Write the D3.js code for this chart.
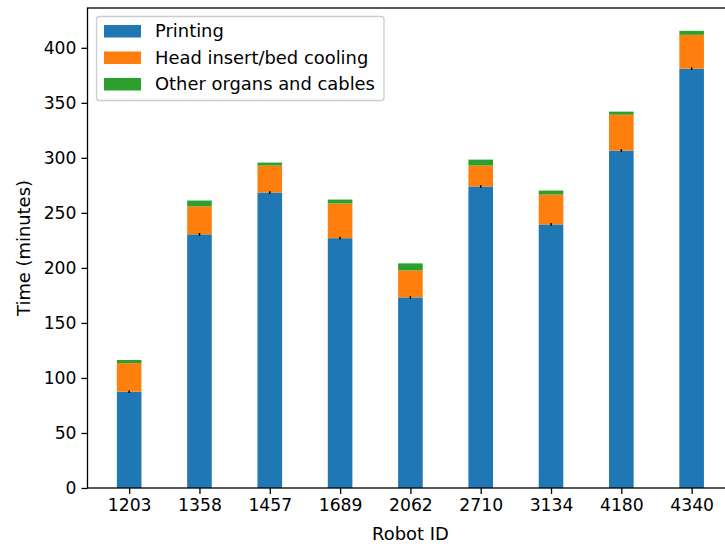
<!DOCTYPE html>
<html>
<head>
<meta charset="utf-8">
<script src="https://cdn.jsdelivr.net/npm/d3@7"></script>
<style>
  html, body { margin: 0; padding: 0; background: #fff; }
  svg { display: block; font-family: "DejaVu Sans", sans-serif; }
</style>
</head>
<body>
<svg id="chart" width="725" height="544"></svg>
<script>
// Build time per robot, split into stacked stages
const robotIds = ["1203", "1358", "1457", "1689", "2062", "2710", "3134", "4180", "4340"];
const printing = [87.5, 230.5, 268.5, 227, 173.2, 274, 239.5, 306.6, 381];
const headInsert = [26, 25.5, 24.5, 31.5, 24.5, 19, 27.2, 32.6, 30.8];
const otherParts = [2.8, 5.2, 2.7, 3.6, 6.4, 5.4, 3.6, 2.8, 3.6];
const printingErr = [1.2, 1.2, 1.2, 1.2, 1.2, 1.2, 1.2, 1.2, 1.2];
const yTicks = [0, 50, 100, 150, 200, 250, 300, 350, 400];
const seriesNames = ["Printing", "Head insert/bed cooling", "Other organs and cables"];
const seriesColors = ["#1f77b4", "#ff7f0e", "#2ca02c"];

const svg = d3.select("#chart");
const plot = { left: 87.5, right: 733.3, top: 8, bottom: 488 };
const tickFont = 17.2;
const textFont = 17.9;
const barWidth = 0.35;

// numeric position for each category index
const x = d3.scaleLinear()
  .domain([-0.5925, robotIds.length - 1 + 0.5925])
  .range([plot.left, plot.right]);
const totals = robotIds.map((_, i) => printing[i] + headInsert[i] + otherParts[i]);
const yMax = d3.max(totals) * 1.05;
const y = d3.scaleLinear().domain([0, yMax]).range([plot.bottom, plot.top]);

const rows = robotIds.map((id, i) => ({
  id, i, Printing: printing[i], Head: headInsert[i], Other: otherParts[i]
}));
const stack = d3.stack().keys(["Printing", "Head", "Other"]);
const layers = stack(rows);

const g = svg.append("g");
layers.forEach((layer, k) => {
  g.selectAll(null)
    .data(layer)
    .enter()
    .append("rect")
    .attr("x", d => x(d.data.i - barWidth / 2))
    .attr("width", d => x(barWidth) - x(0))
    .attr("y", d => y(d[1]))
    .attr("height", d => y(d[0]) - y(d[1]))
    .attr("fill", seriesColors[k]);
});

// error bars on the printing stage
g.selectAll(null)
  .data(rows)
  .enter()
  .append("line")
  .attr("x1", d => x(d.i))
  .attr("x2", d => x(d.i))
  .attr("y1", d => y(d.Printing - printingErr[d.i]))
  .attr("y2", d => y(d.Printing + printingErr[d.i]))
  .attr("stroke", "#000")
  .attr("stroke-width", 1.5);

// axes
const xAxis = d3.axisBottom(x)
  .tickValues(d3.range(robotIds.length))
  .tickFormat(i => robotIds[i])
  .tickSize(6)
  .tickPadding(5);
const yAxis = d3.axisLeft(y)
  .tickValues(yTicks)
  .tickSize(6)
  .tickPadding(5);

const gx = svg.append("g").attr("transform", `translate(0,${plot.bottom})`).call(xAxis);
const gy = svg.append("g").attr("transform", `translate(${plot.left},0)`).call(yAxis);
[gx, gy].forEach(a => {
  a.select(".domain").remove();
  a.selectAll(".tick line").attr("stroke", "#000").attr("stroke-width", 1.3);
  a.selectAll(".tick text")
    .attr("fill", "#000")
    .style("font-size", tickFont + "px")
    .style("font-family", "DejaVu Sans");
});

// frame
svg.append("rect")
  .attr("x", plot.left)
  .attr("y", plot.top)
  .attr("width", plot.right - plot.left)
  .attr("height", plot.bottom - plot.top)
  .attr("fill", "none")
  .attr("stroke", "#000")
  .attr("stroke-width", 1.3);

// axis labels
svg.append("text")
  .attr("x", (plot.left + plot.right) / 2)
  .attr("y", 540)
  .attr("text-anchor", "middle")
  .style("font-size", textFont + "px")
  .text("Robot ID");
svg.append("text")
  .attr("transform", `translate(30,${(plot.top + plot.bottom) / 2}) rotate(-90)`)
  .attr("text-anchor", "middle")
  .style("font-size", textFont + "px")
  .text("Time (minutes)");

// legend
const lg = svg.append("g");
lg.append("rect")
  .attr("x", 96.5)
  .attr("y", 16.5)
  .attr("width", 287.5)
  .attr("height", 84)
  .attr("rx", 3)
  .attr("fill", "#fff")
  .attr("fill-opacity", 0.8)
  .attr("stroke", "#ccc")
  .attr("stroke-width", 1.3);
seriesNames.forEach((name, k) => {
  const cy = 31 + k * 26.5;
  lg.append("rect")
    .attr("x", 104)
    .attr("y", cy - 6)
    .attr("width", 37)
    .attr("height", 12.5)
    .attr("fill", seriesColors[k]);
  lg.append("text")
    .attr("x", 155)
    .attr("y", cy)
    .attr("dy", "0.36em")
    .style("font-size", textFont + "px")
    .text(name);
});
</script>
</body>
</html>
